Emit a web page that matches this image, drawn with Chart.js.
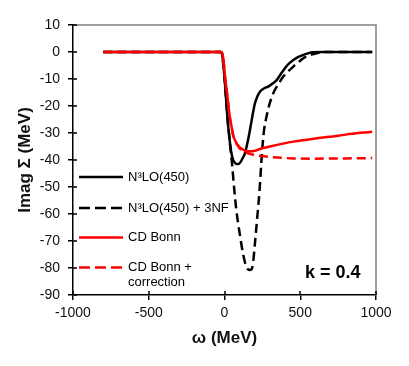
<!DOCTYPE html>
<html><head><meta charset="utf-8">
<script src="https://cdn.jsdelivr.net/npm/chart.js@4"></script>
<style>html,body{margin:0;padding:0;background:#fff}#wrap{position:relative;width:409px;height:366px}</style>
</head><body><div id="wrap"><canvas id="c" width="409" height="366"></canvas></div>
<script>
const seriesNames = ["N³LO(450)", "N³LO(450) + 3NF", "CD Bonn", ["CD Bonn +", "correction"]];
const cornerLabel = "k = 0.4";
const xTitle = "ω (MeV)";
const yTitle = "Imag Σ (MeV)";
const xTicks = [-1000, -500, 0, 500, 1000];
const yTicks = [10, 0, -10, -20, -30, -40, -50, -60, -70, -80, -90];

const omegaN3LO = [-800, -25, -15, -8, 0, 8, 15, 22, 30, 38, 46, 56, 68, 80, 92, 105, 120, 135, 150, 166, 185, 201, 218, 234, 260, 289, 315, 344, 370, 399, 425, 454, 485, 520, 550, 585, 650, 800, 975];
const sigmaN3LO = [0, 0, -1, -4.5, -9.5, -15.5, -21, -26, -30.5, -34.5, -37.5, -39.8, -41, -41.5, -41.5, -40.8, -39.3, -37.5, -34, -29.5, -23.5, -19, -16.3, -14.7, -13.5, -12.8, -11.8, -10.4, -8.3, -6, -4.3, -3, -1.9, -1.1, -0.5, -0.1, 0, 0, 0];

const omega3NF = [-800, -25, -15, -8, 0, 8, 15, 22, 30, 38, 49.5, 62.7, 78, 100, 122, 144, 166, 178, 188, 203, 216.5, 230, 243, 252, 262, 275, 289, 310, 333, 360, 388, 420, 454, 490, 520, 560, 608, 650, 800, 975];
const sigma3NF = [0, 0, -1, -4.5, -9.5, -15.5, -21, -26, -30.5, -35, -41.2, -49.9, -58.5, -67.1, -74.6, -79.5, -80.7, -80.5, -78.3, -69.6, -61, -52.3, -41, -34, -28.5, -24.5, -21, -17, -14, -11.5, -9.1, -7.2, -5.4, -3.7, -2.3, -1.2, -0.5, 0, 0, 0];

const omegaBonn = [-800, -25, -15, -8, 3, 15, 25, 36, 46, 58, 80, 100, 125, 150, 175, 200, 234, 300, 454, 600, 696, 800, 975];
const sigmaBonn = [0, 0, -0.5, -2.3, -9, -14.5, -19.5, -24.5, -27.5, -31, -33.8, -35.2, -36.2, -36.8, -36.8, -36.6, -35.9, -35, -33.2, -32, -31.4, -30.6, -29.5];

const omegaBonnCorr = [-800, -25, -15, -8, 3, 15, 25, 36, 46, 58, 80, 100, 125, 150, 175, 200, 256, 350, 454, 600, 800, 975];
const sigmaBonnCorr = [0, 0, -0.5, -2.3, -9, -14.5, -19.5, -24.5, -27.5, -31, -34, -35.7, -36.8, -37.4, -37.8, -38.2, -38.6, -39.1, -39.4, -39.5, -39.4, -39.3];

const pts = (xs, ys) => xs.map((x, i) => ({x: x, y: ys[i]}));
const FONT = "'Liberation Sans', Arial, sans-serif";

const styles = [
  {color: '#000000', dash: []},
  {color: '#000000', dash: [9, 5]},
  {color: '#ff0000', dash: []},
  {color: '#ff0000', dash: [9, 5]}
];

const decor = {
  id: 'decor',
  afterDraw(chart) {
    const {ctx, chartArea: a, scales: {x, y}} = chart;
    ctx.save();
    ctx.strokeStyle = '#808080'; ctx.lineWidth = 1.5;
    ctx.beginPath();
    ctx.moveTo(a.left, a.top); ctx.lineTo(a.right, a.top); ctx.lineTo(a.right, a.bottom);
    ctx.stroke();
    ctx.strokeStyle = '#000'; ctx.lineWidth = 1.5;
    ctx.beginPath();
    yTicks.forEach(v => { const py = Math.round(y.getPixelForValue(v)); ctx.moveTo(a.left, py); ctx.lineTo(a.left + 4, py); });
    xTicks.forEach(v => { const px = Math.round(x.getPixelForValue(v)); ctx.moveTo(px, a.bottom); ctx.lineTo(px, a.bottom - 4); });
    ctx.stroke();
    const offs = [152, 183, 212.5, 242.5];
    ctx.font = '13px ' + FONT;
    ctx.textBaseline = 'middle';
    ctx.fillStyle = '#000';
    seriesNames.forEach((name, i) => {
      const yy = a.top + offs[i];
      ctx.strokeStyle = styles[i].color; ctx.lineWidth = 2.5;
      ctx.setLineDash(styles[i].dash.length ? [11, 5] : []);
      ctx.beginPath(); ctx.moveTo(a.left + 6, yy); ctx.lineTo(a.left + 50, yy); ctx.stroke();
      ctx.setLineDash([]);
      const lines = Array.isArray(name) ? name : [name];
      lines.forEach((t, j) => ctx.fillText(t, a.left + 55, yy + j * 14.5));
    });
    ctx.font = 'bold 18px ' + FONT;
    ctx.textAlign = 'left';
    ctx.fillText(cornerLabel, a.left + 232, a.top + 248);
    ctx.restore();
  }
};

const datasets = [
  {label: seriesNames[0], data: pts(omegaN3LO, sigmaN3LO), order: 2},
  {label: seriesNames[1], data: pts(omega3NF, sigma3NF), order: 3},
  {label: seriesNames[2], data: pts(omegaBonn, sigmaBonn), order: 1},
  {label: 'CD Bonn + correction', data: pts(omegaBonnCorr, sigmaBonnCorr), order: 0}
].map((d, i) => Object.assign(d, {
  borderColor: styles[i].color, borderDash: styles[i].dash, borderWidth: 2.5,
  pointRadius: 0, fill: false, cubicInterpolationMode: 'monotone', borderCapStyle: 'butt'
}));

new Chart(document.getElementById('c'), {
  type: 'line',
  data: {datasets},
  plugins: [decor],
  options: {
    responsive: false, animation: false,
    layout: {padding: {top: 25, right: 33, left: 0, bottom: 0}},
    plugins: {legend: {display: false}, tooltip: {enabled: false}},
    scales: {
      x: {
        type: 'linear', min: -1000, max: 1000,
        afterFit: s => { s.height = 71; },
        afterBuildTicks: s => { s.ticks = xTicks.map(v => ({value: v})); },
        border: {color: '#000', width: 1.5},
        grid: {drawOnChartArea: false, tickLength: 5, color: '#000', lineWidth: 1.5},
        ticks: {padding: 5, color: '#111', font: {family: FONT, size: 14}, maxRotation: 0, callback: v => String(v)},
        title: {display: true, text: xTitle, color: '#111', font: {family: FONT, size: 17, weight: 'bold'}, padding: {top: 0, bottom: 17}}
      },
      y: {
        type: 'linear', min: -90, max: 10,
        afterFit: s => { s.width = 73; },
        afterBuildTicks: s => { s.ticks = yTicks.map(v => ({value: v})); },
        border: {color: '#000', width: 1.5},
        grid: {drawOnChartArea: false, tickLength: 5, color: '#000', lineWidth: 1.5},
        ticks: {padding: 8, color: '#111', font: {family: FONT, size: 14}, callback: v => String(v)},
        title: {display: true, text: yTitle, color: '#111', font: {family: FONT, size: 17, weight: 'bold'}, padding: {top: 15, bottom: 0}}
      }
    }
  }
});
</script></body></html>
